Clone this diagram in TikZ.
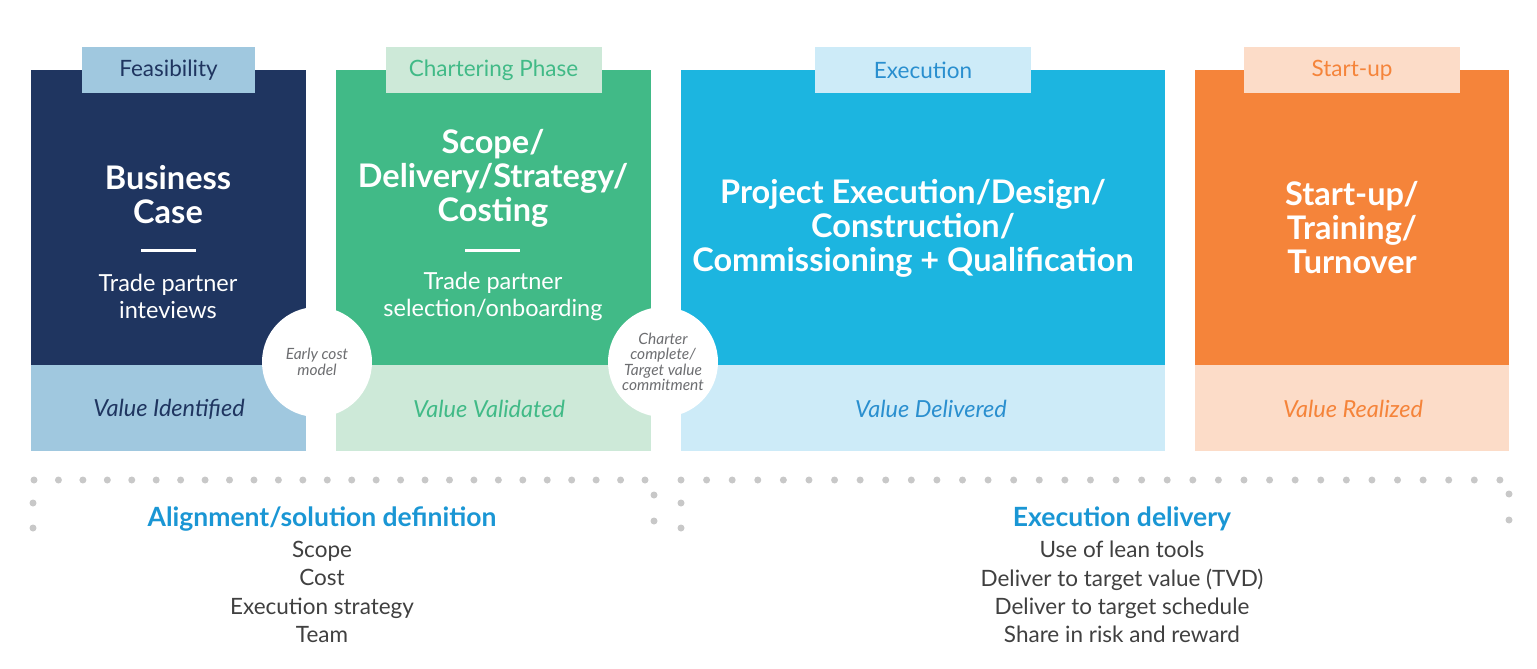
\documentclass[tikz,border=0pt]{standalone}
\usepackage{fontspec}
\setmainfont{Lato}
\usetikzlibrary{positioning}
\definecolor{navy}{HTML}{1F3560}
\definecolor{navy-lt}{HTML}{A0C8DF}
\definecolor{green-a}{HTML}{41BA87}
\definecolor{green-lt}{HTML}{CDE9D8}
\definecolor{cyan-a}{HTML}{1CB5E0}
\definecolor{cyan-lt}{HTML}{CDEBF8}
\definecolor{cyan-tx}{HTML}{2A8FCF}
\definecolor{orange-a}{HTML}{F5843A}
\definecolor{orange-lt}{HTML}{FCDCC8}
\definecolor{gate-tx}{HTML}{6D6E71}
\definecolor{dot-gray}{HTML}{C8C8C8}
\definecolor{head-blue}{HTML}{1A96D4}
\definecolor{list-gray}{HTML}{404040}

\begin{document}
\begin{tikzpicture}
[
x=1pt, y=-1pt,
box-a/.style={anchor=north west, inner sep=0, outer sep=0},
tab-a/.style={minimum height=46, inner sep=0, font=\fontsize{22.5}{26}\selectfont},
title-a/.style={white, align=center, font=\bfseries\fontsize{32.5}{34}\selectfont},
sub-a/.style={white, align=center, font=\fontsize{23.5}{27}\selectfont},
value-a/.style={font=\itshape\fontsize{23.5}{26}\selectfont},
gate-a/.style={circle, fill=white, minimum size=110, inner sep=0, align=center, text=gate-tx, font=\itshape\fontsize{15.5}{15.5}\selectfont},
bar-a/.style={white, line width=3},
head-a/.style={text=head-blue, font=\bfseries\fontsize{26.5}{30}\selectfont},
list-a/.style={text=list-gray, align=center, font=\fontsize{22.5}{28.3}\selectfont}
]
\useasboundingbox (0,0) rectangle (1537,669);

% phase boxes
\node (case-top)   [box-a, fill=navy,      minimum width=275, minimum height=295] at (31,70)   {};
\node (case-bot)   [box-a, fill=navy-lt,   minimum width=275, minimum height=86]  at (31,365)  {};
\node (scope-top)  [box-a, fill=green-a,   minimum width=315, minimum height=295] at (336,70)  {};
\node (scope-bot)  [box-a, fill=green-lt,  minimum width=315, minimum height=86]  at (336,365) {};
\node (exec-top)   [box-a, fill=cyan-a,    minimum width=484, minimum height=295] at (681,70)  {};
\node (exec-bot)   [box-a, fill=cyan-lt,   minimum width=484, minimum height=86]  at (681,365) {};
\node (start-top)  [box-a, fill=orange-a,  minimum width=314, minimum height=295] at (1195,70) {};
\node (start-bot)  [box-a, fill=orange-lt, minimum width=314, minimum height=86]  at (1195,365){};

% notches
\fill[navy, rounded corners=1.5]   ([yshift=141]case-top.north east)  -- ++(16,17) -- ++(-16,17) -- cycle;
\fill[green-a, rounded corners=1.5]([yshift=141]scope-top.north east) -- ++(16,17) -- ++(-16,17) -- cycle;
\fill[cyan-a, rounded corners=1.5] ([yshift=141]exec-top.north east)  -- ++(16,17) -- ++(-16,17) -- cycle;

% tabs
\node (case-tab)   [tab-a, fill=navy-lt,   text=navy,     minimum width=173] at (case-top.north)  {Feasibility};
\node (scope-tab)  [tab-a, fill=green-lt,  text=green-a,  minimum width=216] at (scope-top.north) {Chartering Phase};
\node (exec-tab)   [tab-a, fill=cyan-lt,   text=cyan-tx,  minimum width=216] at (exec-top.north)  {Execution};
\node (start-tab)  [tab-a, fill=orange-lt, text=orange-a, minimum width=216] at (start-top.north) {Start-up};

% titles
\node (case-tl)    [title-a] at (168,195)  {Business\\Case};
\node (scope-tl)   [title-a] at (493,178)  {Scope/\\Delivery/Strategy/\\Costing};
\node (exec-tl)    [title-a] at (913,228)  {Project Execution/Design/\\Construction/\\Commissioning + Qualification};
\node (start-tl)   [title-a] at (1352,228) {Start-up/\\Training/\\Turnover};
\draw[bar-a] (141,250) -- (196,250);
\draw[bar-a] (465,250) -- (520,250);
\node (case-sb)    [sub-a]   at (168,296)  {Trade partner\\inteviews};
\node (scope-sb)   [sub-a]   at (493,296)  {Trade partner\\selection/onboarding};

% values
\node (case-val)   [value-a, text=navy]     at (169,409)  {Value Identified};
\node (scope-val)  [value-a, text=green-a]  at (489,409)  {Value Validated};
\node (exec-val)   [value-a, text=cyan-tx]  at (931,409)  {Value Delivered};
\node (start-val)  [value-a, text=orange-a] at (1353,409) {Value Realized};

% gates
\node (gate-1)     [gate-a] at (317,362) {Early cost\\model};
\node (gate-2)     [gate-a] at (663,362) {Charter\\complete/\\Target value\\commitment};

% dotted brackets
\foreach \i in {0,...,25} \fill[dot-gray] (34+24.44*\i,480) circle (3.5);
\foreach \i in {0,...,32} \fill[dot-gray] (681+25.59*\i,480) circle (3.5);
\foreach \x/\y in {33/503, 33/528, 654/495, 654/521, 681/503, 681/528, 1509/494, 1509/520}
  \fill[dot-gray] (\x,\y) circle (3.5);

% outcomes
\node (align-hd)   [head-a] at (322,519)  {Alignment/solution definition};
\node (align-ls)   [list-a] at (322,592)  {Scope\\Cost\\Execution strategy\\Team};
\node (deliv-hd)   [head-a] at (1122,519) {Execution delivery};
\node (deliv-ls)   [list-a] at (1122,592) {Use of lean tools\\Deliver to target value (TVD)\\Deliver to target schedule\\Share in risk and reward};
\end{tikzpicture}
\end{document}
